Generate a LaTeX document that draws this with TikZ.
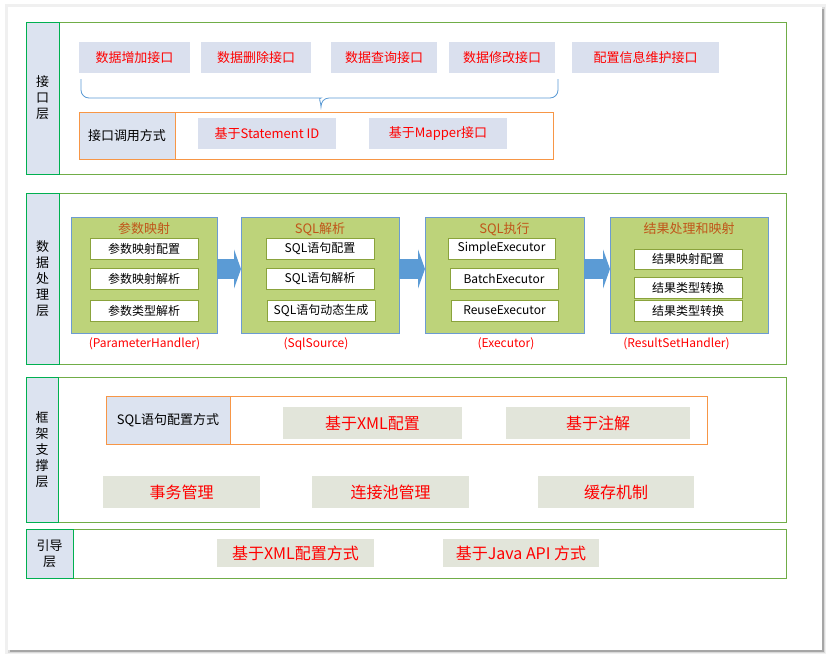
\documentclass[tikz,border=0pt]{standalone}
\usepackage{fontspec}
\setmainfont{Noto Sans CJK SC}
\usepackage{xcolor}
\usepackage{tikz}
\usetikzlibrary{positioning, arrows.meta, calc}

\definecolor{layergreen}{HTML}{70AD47}
\definecolor{tabgreen}{HTML}{00B050}
\definecolor{tabblue}{HTML}{DCE3F0}
\definecolor{boxblue}{HTML}{DAE0EE}
\definecolor{boxgray}{HTML}{E2E5DA}
\definecolor{edgeorange}{HTML}{F79646}
\definecolor{modgreen}{HTML}{BDD37A}
\definecolor{modedge}{HTML}{6C9BD2}
\definecolor{itemedge}{HTML}{8AA33C}
\definecolor{titlebrown}{HTML}{C0561A}
\definecolor{flowblue}{HTML}{5B9BD5}

\tikzset{
  layer/.style={draw=layergreen, line width=0.9pt, inner sep=0pt, outer sep=0pt},
  tab/.style={draw=tabgreen, fill=tabblue, line width=0.9pt, inner sep=0pt, outer sep=0pt,
    align=center, font=\fontsize{13pt}{16pt}\selectfont},
  apibox/.style={fill=boxblue, inner sep=0pt, outer sep=0pt, text=red,
    font=\fontsize{13pt}{16pt}\selectfont},
  waybox/.style={draw=edgeorange, line width=0.9pt, inner sep=0pt, outer sep=0pt},
  waycell/.style={draw=edgeorange, fill=tabblue, line width=0.9pt, inner sep=0pt, outer sep=0pt,
    font=\fontsize{13pt}{16pt}\selectfont},
  module/.style={draw=modedge, fill=modgreen, line width=0.8pt, inner sep=0pt, outer sep=0pt},
  modtitle/.style={text=titlebrown, font=\fontsize{13pt}{16pt}\selectfont},
  item/.style={draw=itemedge, fill=white, line width=0.8pt, inner sep=0pt, outer sep=0pt,
    font=\fontsize{12pt}{14pt}\selectfont},
  handler/.style={text=red, font=\fontsize{12pt}{14pt}\selectfont},
  flow/.style={flowblue, line width=20pt,
    -{Triangle[width=39pt, length=7pt]}, shorten <=0pt},
  basebox/.style={fill=boxgray, inner sep=0pt, outer sep=0pt, text=red,
    font=\fontsize{16pt}{19pt}\selectfont}
}

\begin{document}
\begin{tikzpicture}[x=1pt, y=-1pt]
  \useasboundingbox (0,0) rectangle (831,659);

  % page with shadow
  \fill[black!6] (5,4) rectangle (826,654);
  \fill[black!15] (8,7) rectangle (825,653);
  \fill[black!35] (10,9) rectangle (824,652);
  \fill[white] (8,7) rectangle (822,650);

  % interface layer
  \node[layer, minimum width=760, minimum height=152] (api) at (406,98) {};
  \node[tab, minimum width=33, minimum height=152] (apitab) at (42.5,98) {接\\口\\层};
  \node[apibox, minimum width=111, minimum height=31] (add) at (134.5,57.5) {数据增加接口};
  \node[apibox, minimum width=110, minimum height=31] (del) at (256,57.5) {数据删除接口};
  \node[apibox, minimum width=106, minimum height=31] (qry) at (384,57.5) {数据查询接口};
  \node[apibox, minimum width=106, minimum height=31] (upd) at (502,57.5) {数据修改接口};
  \node[apibox, minimum width=147, minimum height=31] (cfg) at (645.5,57.5) {配置信息维护接口};

  \coordinate (braceL) at (81,79);
  \coordinate (braceR) at (558,79);
  \coordinate (braceT) at (321,107);
  \draw[flowblue, line width=0.8pt, rounded corners=8pt]
    (braceL) |- ($(braceT)+(-8,-9)$) [sharp corners]
    .. controls ($(braceT)+(-3,-9)$) and ($(braceT)+(0,-5)$) .. (braceT)
    .. controls ($(braceT)+(0,-5)$) and ($(braceT)+(3,-9)$) .. ($(braceT)+(8,-9)$)
    [rounded corners=8pt] -| (braceR);

  \node[waybox, minimum width=474, minimum height=47] (call) at (316,135.5) {};
  \node[waycell, minimum width=96, minimum height=47] (calltab) at (127,135.5) {接口调用方式};
  \node[apibox, minimum width=138, minimum height=31] (stid) at (267,133.5) {基于Statement ID};
  \node[apibox, minimum width=138, minimum height=31] (mapper) at (438,133.5) {基于Mapper接口};

  % data processing layer
  \node[layer, minimum width=760, minimum height=171] (proc) at (406,278.5) {};
  \node[tab, minimum width=33, minimum height=171] (proctab) at (42.5,278.5) {数\\据\\处\\理\\层};

  \node[module, minimum width=146, minimum height=116] (param) at (144,275) {};
  \node[module, minimum width=158, minimum height=116] (sql) at (320,275) {};
  \node[module, minimum width=159, minimum height=116] (exec) at (504.5,275) {};
  \node[module, minimum width=158, minimum height=116] (result) at (689,275) {};

  \node[modtitle] (paramT) at (144,229) {参数映射};
  \node[modtitle] (sqlT) at (320,229) {SQL解析};
  \node[modtitle] (execT) at (504.5,229) {SQL执行};
  \node[modtitle] (resultT) at (689,229) {结果处理和映射};

  \node[item, minimum width=108, minimum height=21] (p1) at (144,248.5) {参数映射配置};
  \node[item, minimum width=108, minimum height=21] (p2) at (144,278.5) {参数映射解析};
  \node[item, minimum width=108, minimum height=21] (p3) at (144,310.5) {参数类型解析};

  \node[item, minimum width=108, minimum height=21] (s1) at (320,248.5) {SQL语句配置};
  \node[item, minimum width=108, minimum height=21] (s2) at (320,278.5) {SQL语句解析};
  \node[item, minimum width=108, minimum height=21] (s3) at (321,310.5) {SQL语句动态生成};

  \node[item, minimum width=107, minimum height=21] (e1) at (501.5,248.5) {SimpleExecutor};
  \node[item, minimum width=108, minimum height=21] (e2) at (504,278.5) {BatchExecutor};
  \node[item, minimum width=107, minimum height=21] (e3) at (504.5,310.5) {ReuseExecutor};

  \node[item, minimum width=108, minimum height=20] (r1) at (688,259) {结果映射配置};
  \node[item, minimum width=108, minimum height=21] (r2) at (688,287.5) {结果类型转换};
  \node[item, minimum width=108, minimum height=21] (r3) at (688,310.5) {结果类型转换};

  \node[handler] (paramH) at (144.5,344) {(ParameterHandler)};
  \node[handler] (sqlH) at (316,344) {(SqlSource)};
  \node[handler] (execH) at (506,344) {(Executor)};
  \node[handler] (resultH) at (676.5,344) {(ResultSetHandler)};

  \draw[flow] (param.east |- 0,269) -- (sql.west |- 0,269);
  \draw[flow] (sql.east |- 0,269) -- (exec.west |- 0,269);
  \draw[flow] (exec.east |- 0,269) -- (result.west |- 0,269);

  % framework support layer
  \node[layer, minimum width=760, minimum height=145] (frame) at (406,449.5) {};
  \node[tab, minimum width=32, minimum height=145] (frametab) at (42,449.5) {框\\架\\支\\撑\\层};
  \node[waybox, minimum width=601, minimum height=48] (sqlway) at (406.5,420) {};
  \node[waycell, minimum width=124, minimum height=48] (sqlwaytab) at (168,420) {SQL语句配置方式};
  \node[basebox, minimum width=179, minimum height=32] (xmlcfg) at (372.5,423) {基于XML配置};
  \node[basebox, minimum width=184, minimum height=32] (annot) at (598,423) {基于注解};
  \node[basebox, minimum width=157, minimum height=32] (tx) at (181.5,492) {事务管理};
  \node[basebox, minimum width=157, minimum height=32] (pool) at (390.5,492) {连接池管理};
  \node[basebox, minimum width=156, minimum height=32] (cache) at (616,492) {缓存机制};

  % boot layer
  \node[layer, minimum width=760, minimum height=49] (boot) at (406,553.5) {};
  \node[tab, minimum width=47, minimum height=49] (boottab) at (49.5,553.5) {引导\\层};
  \node[basebox, minimum width=157, minimum height=28] (bootxml) at (295.5,553) {基于XML配置方式};
  \node[basebox, minimum width=156, minimum height=28] (bootjava) at (521,553) {基于Java API 方式};
\end{tikzpicture}
\end{document}
